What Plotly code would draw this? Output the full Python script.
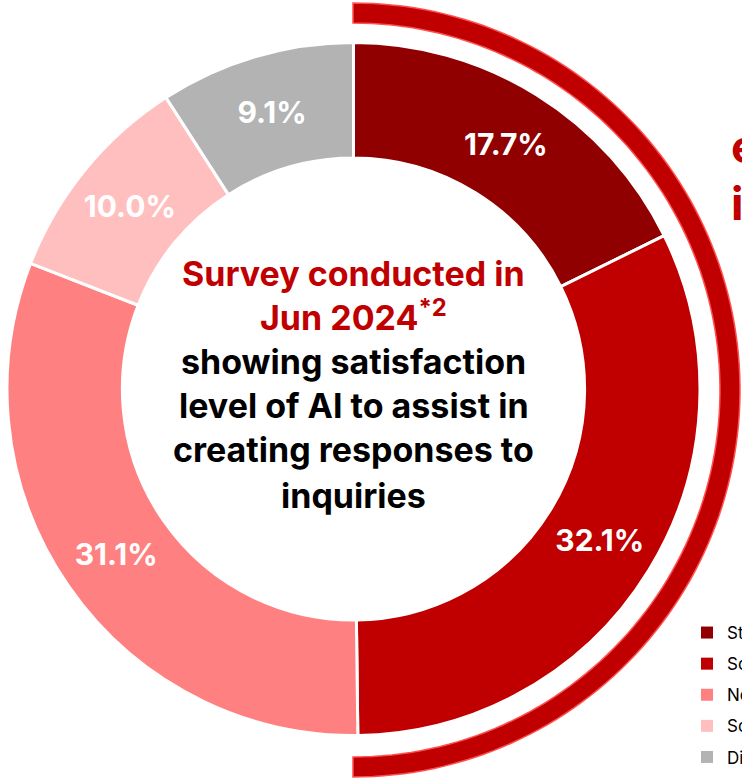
import numpy as np
import plotly.graph_objects as go

# ---- data ----
categories = ["Strongly satisfied", "Somewhat satisfied", "Neutral",
              "Somewhat dissatisfied", "Dissatisfied"]
values = [17.7, 32.1, 31.1, 10.0, 9.1]
colors = ["#900000", "#C00000", "#FF8080", "#FFBFBF", "#B3B3B3"]

center_red = ["Survey conducted in", "Jun 2024<sup>*2</sup>"]
center_black = ["showing satisfaction", "level of AI to assist in",
                "creating responses to", "inquiries"]
side_text = ["e", "i"]

W, H = 742, 779
FONT = "Inter"

fig = go.Figure()

# donut geometry in pixels
cx, cy, R = 353.5, 389.0, 346.5
fig.add_trace(go.Pie(
    labels=categories, values=values, sort=False, direction="clockwise",
    rotation=0, hole=0.667,
    marker=dict(colors=colors, line=dict(color="white", width=3)),
    texttemplate="%{value:.1f}%", textposition="inside",
    insidetextorientation="horizontal",
    insidetextfont=dict(family=FONT, size=30, color="white", weight=700),
    showlegend=False, hoverinfo="label+value",
    domain=dict(x=[(cx - R) / W, (cx + R) / W],
                y=[(H - cy - R) / H, (H - cy + R) / H]),
))

# legend via dummy traces (one group each so spacing can be tuned)
for cat, col in zip(categories, colors):
    fig.add_trace(go.Scatter(
        x=[None], y=[None], mode="markers", name=cat, legendgroup=cat,
        marker=dict(symbol="square", size=12, color=col),
    ))

# outer highlight arc (right half) as a paper-coord path
acx, acy, r_in, r_out = 353.0, 390.0, 367.0, 387.0
th = np.linspace(-np.pi / 2, np.pi / 2, 120)
outer = [(acx + r_out * np.cos(t), acy + r_out * np.sin(t)) for t in th]
inner = [(acx + r_in * np.cos(t), acy + r_in * np.sin(t)) for t in th[::-1]]
pts = outer + inner
path = "M " + " L ".join(f"{x / W:.5f},{1 - y / H:.5f}" for x, y in pts) + " Z"
fig.add_shape(type="path", path=path, xref="paper", yref="paper",
              fillcolor="#C00000", line=dict(color="#FF5050", width=1.5))

# center text
line_y = [273, 316, 361, 405, 450, 495]
lines = [(t, "#C00000") for t in center_red] + [(t, "#000000") for t in center_black]
for (t, c), y in zip(lines, line_y):
    fig.add_annotation(text=t, x=cx / W, y=1 - y / H, xref="paper", yref="paper",
                       xanchor="center", yanchor="middle", showarrow=False,
                       font=dict(family=FONT, size=34, color=c, weight=700))

# cut-off side text
for t, y in zip(side_text, [146, 203]):
    fig.add_annotation(text=t, x=729 / W, y=1 - y / H, xref="paper", yref="paper",
                       xanchor="left", yanchor="middle", showarrow=False,
                       font=dict(family=FONT, size=46, color="#C00000", weight=700))

fig.update_layout(
    width=W, height=H, margin=dict(l=0, r=0, t=0, b=0, autoexpand=False),
    paper_bgcolor="white", plot_bgcolor="white",
    xaxis=dict(visible=False), yaxis=dict(visible=False),
    legend=dict(x=687 / W, y=1 - 615 / H, xanchor="left", yanchor="top",
                font=dict(family=FONT, size=17, color="black"),
                traceorder="grouped", tracegroupgap=6,
                bgcolor="rgba(0,0,0,0)"),
)

fig.write_html("out.html")
